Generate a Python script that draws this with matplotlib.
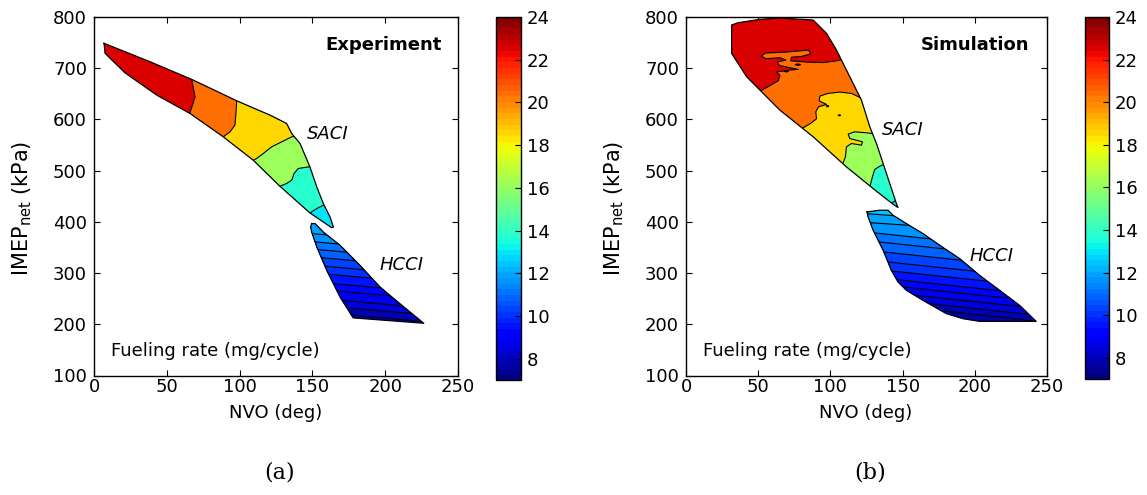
import numpy as np
import matplotlib
matplotlib.use("Agg")
import matplotlib.pyplot as plt
from matplotlib import colors as mcolors
from matplotlib.cm import ScalarMappable
from matplotlib.patches import Polygon

plt.rcParams['font.family'] = ['DejaVu Sans']

# ---------------- Experiment: SACI region ----------------
exp_saci_nvo = [6.9, 38.5, 67.1, 98.0, 120.9, 132.3, 135.8, 141.5, 148.3, 153.0, 157.5, 162.1, 164.4,
                163.2, 148.3, 127.7, 109.4, 88.8, 65.9, 43.1, 21.3, 7.6]
exp_saci_imep = [748.6, 712.6, 678.2, 636.4, 608.4, 592.1, 572.5, 553.0, 507.3, 468.2, 435.8, 409.7, 390.0,
                 388.7, 417.4, 469.5, 520.3, 566.0, 611.7, 647.5, 691.0, 729.0]
exp_saci_base = 12.9
exp_saci_levels = [13.8, 16.2, 18.5, 20.4, 22.5]
exp_saci_iso_nvo = [[165.0, 157.5, 153.0, 148.3, 143.0],
                    [155.0, 147.2, 140.3, 137.4, 135.8, 132.3, 127.7, 123.0],
                    [145.0, 135.8, 128.9, 122.0, 116.3, 111.7, 109.4, 104.0],
                    [98.5, 98.0, 97.5, 96.8, 93.4, 88.8, 86.0],
                    [67.0, 67.1, 69.4, 65.9, 65.0]]
exp_saci_iso_imep = [[436.0, 432.5, 426.0, 417.4, 410.0],
                     [510.0, 507.3, 504.2, 494.4, 481.3, 474.9, 469.6, 462.0],
                     [570.0, 566.0, 556.2, 546.5, 533.5, 523.8, 520.4, 512.0],
                     [650.0, 636.4, 611.7, 588.9, 575.8, 566.0, 558.0],
                     [690.0, 678.0, 644.0, 613.0, 600.0]]

# ---------------- Experiment: HCCI region ----------------
exp_hcci_nvo = [149.5, 151.8, 157.5, 169.0, 182.7, 196.5, 210.2, 226.5, 178.0, 169.0, 159.8, 153.0, 149.5, 148.8]
exp_hcci_imep = [396.6, 396.6, 380.0, 354.3, 315.0, 272.7, 240.0, 202.0, 212.5, 253.0, 305.4, 351.0, 380.0, 390.0]
exp_hcci_base = 7.6
exp_hcci_levels = [8.0, 8.4, 8.8, 9.2, 9.6, 10.0, 10.4, 10.8, 11.2, 11.6, 12.0]
exp_hcci_iso_nvo = [[130.0, 190.0, 250.0]] * 11
exp_hcci_iso_imep = [[229.7, 214.7, 199.7],
                     [243.2, 228.2, 213.2],
                     [256.8, 241.7, 226.7],
                     [274.1, 259.1, 244.1],
                     [287.9, 272.9, 257.9],
                     [305.4, 290.4, 275.4],
                     [320.4, 305.4, 290.4],
                     [336.6, 321.6, 306.6],
                     [351.8, 336.7, 321.7],
                     [366.3, 351.3, 336.3],
                     [382.0, 367.0, 352.0]]

# ---------------- Simulation: SACI region ----------------
sim_saci_nvo = [31.6, 31.6, 36.2, 51.2, 65.0, 88.1, 97.3, 104.2, 113.4, 121.5, 127.3, 131.9, 136.5, 141.1,
                145.7, 146.8, 143.4, 129.6, 111.1, 88.1, 65.0, 51.2, 42.0]
sim_saci_imep = [729.0, 784.4, 788.9, 795.4, 798.0, 794.0, 768.1, 735.5, 683.4, 637.7, 585.5, 553.0, 514.0, 474.9,
                 435.8, 428.0, 434.4, 465.0, 507.3, 566.0, 618.2, 657.3, 683.3]
sim_saci_base = 12.9
sim_saci_levels = [13.8, 16.2, 18.5, 20.4, 22.5]
sim_saci_iso_nvo = [[141.5, 144.5, 148.5],
                    [127.3, 129.1, 130.7, 134.2, 138.3],
                    [107.7, 110.4, 111.1, 114.6, 121.5, 122.2, 113.4, 112.3, 116.9, 124.9, 133.0],
                    [80.0, 86.2, 90.4, 89.9, 91.8, 97.3, 92.2, 92.7, 98.4, 106.5, 114.6, 120.3, 126.1],
                    [50.0, 57.6, 63.9, 65.0, 62.7, 71.9, 77.7, 70.8, 64.5, 63.2, 69.2, 65.0, 55.3, 52.1,
                     54.9, 69.6, 84.8, 86.5, 80.0, 73.1, 72.5, 83.5, 95.0, 104.2, 111.1]]
sim_saci_iso_imep = [[434.4, 440.9, 443.5],
                     [468.3, 487.8, 502.2, 508.7, 513.9],
                     [507.4, 526.9, 546.5, 553.0, 549.8, 556.3, 562.8, 571.3, 575.8, 573.9, 571.3],
                     [581.7, 592.1, 601.2, 614.9, 624.7, 629.3, 636.4, 645.6, 650.8, 653.4, 650.8, 643.0, 639.0],
                     [653.4, 665.1, 675.5, 686.0, 692.5, 696.4, 697.7, 701.6, 705.5, 712.0, 715.9, 720.5, 718.5,
                      723.8, 729.6, 731.5, 735.5, 728.0, 723.0, 721.5, 714.5, 712.0, 711.0, 714.5, 717.9]]
# small closed islands inside the SACI map
sim_island_nvo = [[75.5, 77.5, 79.5, 77.5], [68.0, 69.5, 71.0, 69.5], [97.0, 98.0, 99.0, 98.0],
                  [105.2, 106.2, 107.2, 106.2]]
sim_island_imep = [[707.0, 708.5, 707.0, 705.5], [694.0, 695.3, 694.0, 692.7], [626.0, 627.3, 626.0, 624.7],
                   [608.0, 609.0, 608.0, 607.0]]

# ---------------- Simulation: HCCI region ----------------
sim_hcci_nvo = [125.4, 134.2, 139.9, 143.4, 152.6, 164.1, 175.7, 189.5, 203.3, 217.2, 231.0, 242.5,
                203.3, 191.8, 180.3, 164.1, 152.6, 146.8, 142.2, 136.5, 129.6, 126.1]
sim_hcci_imep = [419.4, 422.7, 422.7, 412.9, 396.6, 377.1, 354.3, 328.2, 295.6, 266.3, 237.0, 205.7,
                 205.7, 210.9, 220.7, 246.7, 266.3, 282.6, 305.4, 344.5, 383.6, 409.6]
sim_hcci_base = 7.6
sim_hcci_levels = [8.0, 8.4, 8.8, 9.2, 9.6, 10.0, 10.4, 10.8, 11.2, 11.6, 12.0, 12.4]
sim_hcci_iso_nvo = [[115.0, 180.0, 250.0]] * 11 + [[115.0, 135.0, 160.0]]
sim_hcci_iso_imep = [[245.0, 225.3, 204.3],
                     [256.2, 236.7, 215.7],
                     [269.6, 250.1, 229.1],
                     [283.4, 263.9, 242.9],
                     [296.3, 276.8, 255.8],
                     [312.3, 292.8, 271.8],
                     [329.2, 309.6, 288.6],
                     [347.8, 328.3, 307.3],
                     [366.4, 346.9, 325.9],
                     [383.1, 363.6, 342.6],
                     [400.8, 388.3, 367.3],
                     [418.0, 414.0, 408.0]]

cbar_ticks = [8, 10, 12, 14, 16, 18, 20, 22, 24]
fuel_min, fuel_max = 7, 24

cmap = plt.get_cmap('jet', 64)
norm = mcolors.Normalize(vmin=fuel_min, vmax=fuel_max)
FAR = 3000.0


def filled_region(ax, out_x, out_y, base, levels, iso_x, iso_y, d_start, d_end):
    outline = np.column_stack([out_x, out_y])
    clip = Polygon(outline, closed=True, transform=ax.transData, facecolor='none', edgecolor='none')
    ax.fill(out_x, out_y, color=cmap(norm(base)), lw=0, zorder=1)
    ds = np.asarray(d_start, float) * FAR
    de = np.asarray(d_end, float) * FAR
    for lev, xs, ys in zip(levels, iso_x, iso_y):
        pts = np.column_stack([xs, ys])
        s, e = pts[0], pts[-1]
        poly = np.vstack([pts, e + de, s + ds + de, s + ds])
        patch = ax.fill(poly[:, 0], poly[:, 1], color=cmap(norm(lev)), lw=0, zorder=2)[0]
        patch.set_clip_path(clip)
    for xs, ys in zip(iso_x, iso_y):
        ln, = ax.plot(xs, ys, color='k', lw=0.8, zorder=3, solid_joinstyle='round')
        ln.set_clip_path(clip)
    closed = np.vstack([outline, outline[:1]])
    ax.plot(closed[:, 0], closed[:, 1], color='k', lw=0.9, zorder=4, solid_joinstyle='round')


fig = plt.figure(figsize=(11.47, 4.95), dpi=100)
W, H = 1147.0, 495.0


def px_axes(l, t, r, b):
    return fig.add_axes([l / W, 1 - b / H, (r - l) / W, (b - t) / H])


ax_a = px_axes(94, 17, 458, 375.5)
ax_b = px_axes(686, 17, 1047, 375.5)
cax_a = px_axes(496, 17, 521, 380)
cax_b = px_axes(1085, 17, 1109, 379)

filled_region(ax_a, exp_saci_nvo, exp_saci_imep, exp_saci_base, exp_saci_levels,
              exp_saci_iso_nvo, exp_saci_iso_imep, (0, 1), (-1, 0))
filled_region(ax_a, exp_hcci_nvo, exp_hcci_imep, exp_hcci_base, exp_hcci_levels,
              exp_hcci_iso_nvo, exp_hcci_iso_imep, (-1, 0), (0, 1))
filled_region(ax_b, sim_saci_nvo, sim_saci_imep, sim_saci_base, sim_saci_levels,
              sim_saci_iso_nvo, sim_saci_iso_imep, (-1, 0), (0, 1))
filled_region(ax_b, sim_hcci_nvo, sim_hcci_imep, sim_hcci_base, sim_hcci_levels,
              sim_hcci_iso_nvo, sim_hcci_iso_imep, (-1, 0), (0, 1))
for xs, ys in zip(sim_island_nvo, sim_island_imep):
    ax_b.fill(xs, ys, facecolor='k', edgecolor='k', lw=0.8, zorder=5)

for ax in (ax_a, ax_b):
    ax.set_xlim(0, 250)
    ax.set_ylim(100, 800)
    ax.set_xticks(np.arange(0, 251, 50))
    ax.set_yticks(np.arange(100, 801, 100))
    ax.tick_params(direction='in', length=4, width=0.8, top=True, right=True, labelsize=13)
    ax.tick_params(axis='x', pad=2)
    ax.tick_params(axis='y', pad=5)
    for sp in ax.spines.values():
        sp.set_linewidth(1.0)
    ax.text(12, 147, 'Fueling rate (mg/cycle)', fontsize=13, va='center', ha='left')

ax_a.text(239, 746, 'Experiment', fontsize=13, fontweight='bold', ha='right', va='center')
ax_a.text(146, 572, 'SACI', fontsize=13, style='italic', ha='left', va='center')
ax_a.text(196, 315, 'HCCI', fontsize=13, style='italic', ha='left', va='center')
ax_b.text(238, 746, 'Simulation', fontsize=13, fontweight='bold', ha='right', va='center')
ax_b.text(136, 579, 'SACI', fontsize=13, style='italic', ha='left', va='center')
ax_b.text(196, 334, 'HCCI', fontsize=13, style='italic', ha='left', va='center')

for cax in (cax_a, cax_b):
    cb = fig.colorbar(ScalarMappable(norm=norm, cmap=cmap), cax=cax, ticks=cbar_ticks)
    cb.outline.set_linewidth(1.0)
    cax.tick_params(direction='in', length=4, width=0.8, labelsize=13, pad=4)

for xl, yl, lab in ((22, 276, '(a)'), (614, 866, '(b)')):
    fig.text(xl / W, 1 - 208 / H, r'IMEP$_\mathregular{net}$ (kPa)', rotation=90,
             ha='center', va='center', fontsize=15)
    fig.text(yl / W, 1 - 413 / H, 'NVO (deg)', ha='center', va='center', fontsize=13)
    fig.text((yl + 4) / W, 1 - 472 / H, lab, ha='center', va='center', fontsize=16,
             family='DejaVu Serif')

fig.savefig('out.png', dpi=100)
